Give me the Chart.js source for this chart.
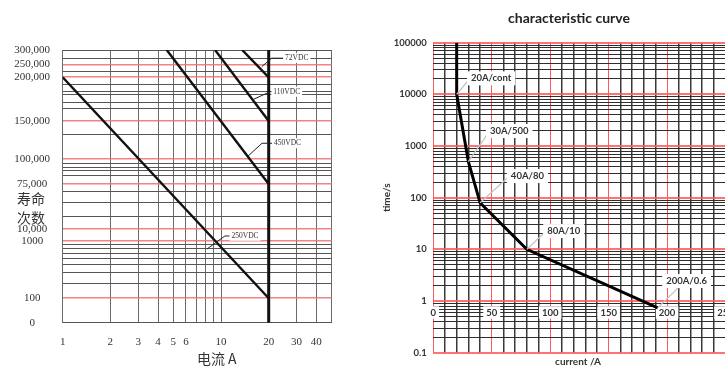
<!DOCTYPE html>
<html><head><meta charset="utf-8">
<script src="https://cdn.jsdelivr.net/npm/chart.js@4/dist/chart.umd.min.js"></script>
<style>
html,body{margin:0;padding:0;background:#fff;overflow:hidden;width:725px;height:368px;}
#cL{position:absolute;left:0;top:0;}
#cR{position:absolute;left:375px;top:0;}
</style></head><body>
<canvas id="cL" width="345" height="368"></canvas>
<canvas id="cR" width="365" height="368"></canvas>
<script>
// ================= LEFT CHART DATA =================
const lifeLabels = ['0','100','1000','10,000','75,000','100,000','150,000','200,000','250,000','300,000'];
const lifeValues = [0,100,1000,10000,75000,100000,150000,200000,250000,300000];
const currentTicks = [1,2,3,4,5,6,7,8,9,10,20,30,40,50];
const currentLabels = ['1','2','3','4','5','6','','','','10','20','30','40',''];

const line250Current = [1, 20];     const line250Life = [200000, 100];
const line450Current = [4.54, 20];  const line450Life = [300000, 75000];
const line110Current = [9.17, 20];  const line110Life = [300000, 150000];
const line72Current  = [13.6, 20];  const line72Life  = [300000, 200000];
const limitCurrent   = [20, 20];    const limitLife   = [0, 300000];
const lineNames = ['72VDC','110VDC','450VDC','250VDC'];

// ================= RIGHT CHART DATA =================
const timeLabels  = ['0.1','1','10','100','1000','10000','100000'];
const timeDecades = [0.1,1,10,100,1000,10000,100000];
const ampLabels   = ['0','50','100','150','200','250'];
const ampLabelValues = [0,50,100,150,200,250];
const curveCurrent = [20, 20, 30, 40, 80, 192];
const curveTime    = [100000, 10000, 500, 80, 10, 0.74];
const curveNotes   = ['20A/cont','30A/500','40A/80','80A/10','200A/0.6'];

// ================= AXIS GEOMETRY (left chart's non-uniform life axis) =================
const LIFE_FRAC = [0,0.0895,0.3007,0.3436,0.5086,0.6003,0.7396,0.8999,0.9468,1];
const LIFE_MINOR_FRAC = [0.9688,0.9212,0.8735,0.8471,0.8350,0.8082,0.7847,0.6909,0.5845,0.5699,0.5563,0.5391,0.4804,0.4415,0.3887,0.2875,0.2703,0.2545,0.2362,0.2116,0.1834,0.1445];

function lifePos(v){
  for(let i=0;i<lifeValues.length-1;i++){
    const a=lifeValues[i], b=lifeValues[i+1];
    if(v>=a && v<=b){ return LIFE_FRAC[i]+(v-a)/(b-a)*(LIFE_FRAC[i+1]-LIFE_FRAC[i]); }
  }
  return v<0?0:1;
}
function zipLife(xs, ys){ return xs.map((x,i)=>({x:x, y:lifePos(ys[i])})); }
function zip(xs, ys){ return xs.map((x,i)=>({x:x, y:ys[i]})); }

const yTicksL = LIFE_FRAC.map((f,i)=>({value:f, lbl:lifeLabels[i], red: i>0 && i<LIFE_FRAC.length-1}))
  .concat(LIFE_MINOR_FRAC.map(f=>({value:f, lbl:'', red:false})))
  .sort((a,b)=>a.value-b.value);

const serif = 'Liberation Serif, DejaVu Serif, serif';
const cjk = '"Noto Sans CJK SC", sans-serif';

// notes on left chart: positions as fractions of the plot area
const notesL = [
  {pts:[[0.740,0.061],[0.777,0.030],[0.826,0.030]], at:[0.870,0.029]},
  {pts:[[0.707,0.182],[0.771,0.153],[0.793,0.153]], at:[0.833,0.153]},
  {pts:[[0.689,0.389],[0.741,0.342],[0.797,0.342]], at:[0.836,0.342]},
  {pts:[[0.536,0.730],[0.603,0.682],[0.633,0.682]], at:[0.678,0.681]}
];

const leftDecor = {
  id:'leftDecor',
  afterDatasetsDraw(chart){
    const c=chart.ctx, a=chart.chartArea, w=a.right-a.left, h=a.bottom-a.top;
    const P=(p)=>[a.left+p[0]*w, a.top+p[1]*h];
    notesL.forEach((n,k)=>{
      c.save();
      c.strokeStyle='#222'; c.lineWidth=1;
      c.beginPath();
      n.pts.forEach((p,j)=>{const q=P(p); if(j===0)c.moveTo(q[0],q[1]); else c.lineTo(q[0],q[1]);});
      c.stroke();
      c.font='7.5px '+serif;
      const t=lineNames[k], tw=c.measureText(t).width, q=P(n.at);
      c.fillStyle='#fff'; c.fillRect(q[0]-tw/2-2,q[1]-5,tw+4,10);
      c.fillStyle='#333'; c.textAlign='center'; c.textBaseline='middle';
      c.fillText(t,q[0],q[1]);
      c.restore();
    });
  },
  afterDraw(chart){
    const c=chart.ctx;
    c.save();
    c.fillStyle='#333'; c.textAlign='center'; c.textBaseline='middle';
    c.font='14px '+cjk;
    c.fillText('寿命',31,199);
    c.fillText('次数',31,218);
    c.fillText('电流 A',216.7,358.3);
    c.restore();
  }
};

new Chart(document.getElementById('cL'),{
  type:'line',
  data:{datasets:[
    {label:lineNames[3], data:zipLife(line250Current,line250Life)},
    {label:lineNames[2], data:zipLife(line450Current,line450Life)},
    {label:lineNames[1], data:zipLife(line110Current,line110Life)},
    {label:lineNames[0], data:zipLife(line72Current,line72Life)},
    {label:'limit', data:zipLife(limitCurrent,limitLife), borderWidth:3}
  ]},
  options:{
    responsive:false, animation:false,
    layout:{padding:{top:50,right:13.3,left:0,bottom:0}},
    plugins:{legend:{display:false}, tooltip:{enabled:false}},
    elements:{point:{radius:0}, line:{borderColor:'#111', borderWidth:2.4, tension:0}},
    scales:{
      x:{type:'logarithmic', min:1, max:50,
        afterBuildTicks:s=>{s.ticks=currentTicks.map(v=>({value:v}));},
        ticks:{autoSkip:false, maxRotation:0, padding:12.4, color:'#333', font:{family:serif,size:11},
          callback:(v,i)=>currentLabels[i]},
        grid:{color:'#6a6a6a', lineWidth:1, drawTicks:false},
        border:{display:false},
        afterFit:s=>{s.height=45.3;}
      },
      y:{type:'linear', min:0, max:1,
        afterBuildTicks:s=>{s.ticks=yTicksL.map(t=>Object.assign({},t));},
        ticks:{autoSkip:false, crossAlign:'center', padding:12.7, color:'#333', font:{family:serif,size:11},
          callback:(v,i,ts)=>ts[i].lbl},
        grid:{drawTicks:false,
          color:c=>c.tick&&c.tick.red?'rgba(240,110,110,0.85)':'#555',
          lineWidth:c=>c.tick&&c.tick.red?1.6:1},
        border:{display:false},
        afterFit:s=>{s.width=62.7;}
      }
    }
  },
  plugins:[leftDecor]
});

// ================= RIGHT CHART =================
const xTicksR=[]; for(let v=0; v<=250; v+=10){ xTicksR.push({value:v, lbl: ampLabelValues.indexOf(v)>=0 ? ampLabels[ampLabelValues.indexOf(v)] : ''}); }
const yTicksR=[];
timeDecades.forEach((d,k)=>{
  yTicksR.push({value:d, lbl:timeLabels[k], dec:true});
  if(k<timeDecades.length-1){ for(let m=2;m<=9;m++){ yTicksR.push({value:+(m*d).toPrecision(6), lbl:'', dec:false}); } }
});

// note anchors in data units: leader end and text centre
const notesR = [
  {i:1, end:[31.9,21000], at:[49.5,20400]},
  {i:2, end:[48,1925],    at:[65,1950]},
  {i:3, end:[65,259],     at:[80.5,262]},
  {i:4, end:[97.2,23.4],  at:[111.6,22.6]},
  {i:5, end:[209.9,1.84], at:[216.7,2.44]}
];
const sans='Lato, "Open Sans", sans-serif';

const rightDecor = {
  id:'rightDecor',
  afterDatasetsDraw(chart){
    const c=chart.ctx, X=chart.scales.x, Y=chart.scales.y;
    notesR.forEach((n,k)=>{
      const x0=X.getPixelForValue(curveCurrent[n.i]), y0=Y.getPixelForValue(curveTime[n.i]);
      const x1=X.getPixelForValue(n.end[0]), y1=Y.getPixelForValue(n.end[1]);
      const xt=X.getPixelForValue(n.at[0]), yt=Y.getPixelForValue(n.at[1]);
      c.save();
      c.strokeStyle='#c4c4c4'; c.lineWidth=1.3;
      c.beginPath(); c.moveTo(x0,y0); c.lineTo(x1,y1); c.stroke();
      c.font='bold 9.5px '+sans;
      const t=curveNotes[k], tw=c.measureText(t).width;
      c.fillStyle='#fff'; c.fillRect(xt-tw/2-4,yt-7,tw+8,14);
      c.fillStyle='#333'; c.textAlign='center'; c.textBaseline='middle';
      c.fillText(t,xt,yt);
      c.restore();
    });
  },
  afterDraw(chart){
    const c=chart.ctx;
    c.save();
    c.fillStyle='#222'; c.textAlign='center'; c.textBaseline='middle';
    c.font='bold 14px '+sans;
    c.fillText('characteristic curve',194,18.5);
    c.font='bold 10px '+sans;
    c.fillStyle='#333';
    c.fillText('current /A',203,361.7);
    c.restore();
  }
};

new Chart(document.getElementById('cR'),{
  type:'line',
  data:{datasets:[{label:'curve', data:zip(curveCurrent,curveTime)}]},
  options:{
    responsive:false, animation:false,
    layout:{padding:{top:42.7,right:11.7,left:0,bottom:15.3}},
    plugins:{legend:{display:false}, tooltip:{enabled:false}},
    elements:{point:{radius:0}, line:{borderColor:'#000', borderWidth:3, tension:0}},
    scales:{
      x:{type:'linear', min:0, max:250, position:{y:1},
        afterBuildTicks:s=>{s.ticks=xTicksR.map(t=>Object.assign({},t));},
        ticks:{autoSkip:false, maxRotation:0, padding:6.2, color:'#333', font:{family:sans,size:9.5,weight:'bold'},
          callback:(v,i,ts)=>ts[i].lbl,
          showLabelBackdrop:c=>!!(c.tick&&c.tick.lbl), backdropColor:'#fff', backdropPadding:{top:1,bottom:0,left:3,right:3}},
        grid:{drawTicks:false,
          color:c=>c.tick&&c.tick.value%50===0?'rgba(255,70,70,0.9)':'#3a3a3a',
          lineWidth:c=>c.tick&&c.tick.value%50===0?1:1.5},
        border:{display:false}
      },
      y:{type:'logarithmic', min:0.1, max:100000,
        afterBuildTicks:s=>{s.ticks=yTicksR.map(t=>Object.assign({},t));},
        ticks:{autoSkip:false, padding:6.6, color:'#333', font:{family:sans,size:9.5,weight:'bold'},
          callback:(v,i,ts)=>ts[i].lbl},
        grid:{drawTicks:false,
          color:c=>c.tick&&c.tick.dec?'rgba(255,90,90,0.85)':'#2e2e2e',
          lineWidth:c=>c.tick&&c.tick.dec?2:1},
        border:{display:false},
        title:{display:true, text:'time/s', color:'#333', font:{family:sans,size:10,weight:'bold'}, padding:{top:5.5,bottom:0}},
        afterFit:s=>{s.width=58.3;}
      }
    }
  },
  plugins:[rightDecor]
});
</script>
</body></html>
